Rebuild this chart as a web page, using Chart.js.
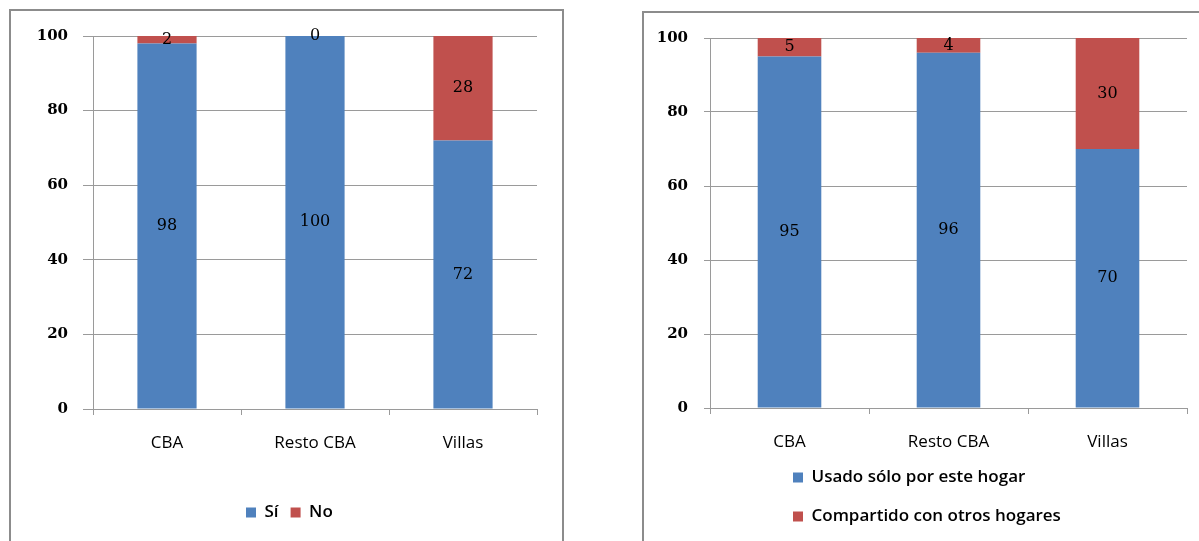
<!DOCTYPE html>
<html lang="es">
<head>
<meta charset="UTF-8">
<title>CBA / Resto CBA / Villas</title>
<script src="https://cdn.jsdelivr.net/npm/chart.js@4.4.1/dist/chart.umd.min.js"></script>
<style>
    html, body { margin: 0; padding: 0; background: #fff; overflow: hidden; }
    .chart-box { position: absolute; border: 2px solid #8c8c8c; background: #fff; }
    #leftBox { left: 9px; top: 9px; width: 551px; height: 560px; }
    #rightBox { left: 642px; top: 11px; width: 600px; height: 560px; }
    canvas { display: block; }
</style>
</head>
<body>
<div class="chart-box" id="leftBox"><canvas id="leftChart" width="551" height="530"></canvas></div>
<div class="chart-box" id="rightBox"><canvas id="rightChart" width="555" height="528"></canvas></div>

<script>
// ====================================
// DATA
// ====================================

const categories = ['CBA', 'Resto CBA', 'Villas'];
const yTicks = [0, 20, 40, 60, 80, 100];

// Left chart
const leftNames = ['Sí', 'No'];
const leftSi = [98, 100, 72];
const leftNo = [2, 0, 28];

// Right chart
const rightNames = ['Usado sólo por este hogar', 'Compartido con otros hogares'];
const rightUsado = [95, 96, 70];
const rightCompartido = [5, 4, 30];

const BLUE = '#4f81bd';
const RED = '#c0504d';
const GRID = '#9a9a9a';

// ====================================
// PLUGINS
// ====================================

// Write each value in the middle of its bar segment
const barValueLabels = {
    id: 'barValueLabels',
    afterDatasetsDraw(chart) {
        const ctx = chart.ctx;
        ctx.save();
        ctx.font = '16px "DejaVu Serif"';
        ctx.fillStyle = '#000';
        ctx.textAlign = 'center';
        ctx.textBaseline = 'middle';
        chart.data.datasets.forEach((ds, i) => {
            chart.getDatasetMeta(i).data.forEach((bar, j) => {
                ctx.fillText(String(ds.data[j]), bar.x, (bar.y + bar.base) / 2);
            });
        });
        ctx.restore();
    }
};

// Move the legend block sideways (Excel puts it off-centre)
const legendOffset = {
    id: 'legendOffset',
    afterLayout(chart, args, opts) {
        const legend = chart.legend;
        if (!legend || opts.left === undefined) return;
        const pad = legend.options.labels.padding;
        legend.left = opts.left - pad;
        legend.width = opts.width;
        legend.right = legend.left + opts.width;
    }
};

// ====================================
// CHART FACTORY
// ====================================

function makeChart(canvasId, names, seriesA, seriesB, cfg) {
    return new Chart(document.getElementById(canvasId), {
        type: 'bar',
        data: {
            labels: categories,
            datasets: [
                { label: names[0], data: seriesA, backgroundColor: BLUE },
                { label: names[1], data: seriesB, backgroundColor: RED }
            ]
        },
        options: {
            responsive: false,
            animation: false,
            barPercentage: cfg.barPct,
            categoryPercentage: 1,
            layout: { padding: cfg.padding },
            plugins: {
                legend: {
                    position: 'bottom',
                    align: 'start',
                    fullSize: cfg.legendFull,
                    labels: {
                        boxWidth: 10,
                        boxHeight: 10,
                        padding: cfg.legendPad,
                        color: '#000',
                        font: { family: 'Open Sans', size: 17, weight: '600' }
                    }
                },
                tooltip: { enabled: false },
                legendOffset: { left: cfg.legendLeft, width: cfg.legendWidth }
            },
            scales: {
                x: {
                    stacked: true,
                    grid: { offset: true, drawOnChartArea: false, color: GRID, tickLength: 6 },
                    border: { color: GRID },
                    ticks: {
                        color: '#000',
                        padding: 18,
                        font: { family: 'Open Sans', size: 17, weight: '500' }
                    },
                    afterFit: scale => { scale.height = cfg.xHeight; }
                },
                y: {
                    stacked: true,
                    min: yTicks[0],
                    max: yTicks[yTicks.length - 1],
                    afterBuildTicks: scale => { scale.ticks = yTicks.map(v => ({ value: v })); },
                    grid: { color: GRID, tickLength: cfg.yTickLen },
                    border: { color: GRID },
                    ticks: {
                        color: '#000',
                        padding: cfg.yPad,
                        font: { family: 'DejaVu Serif', size: 15, weight: 'bold' }
                    },
                    afterFit: scale => { scale.width = cfg.yWidth; }
                }
            }
        },
        plugins: [barValueLabels, legendOffset]
    });
}

// Left chart: Sí / No
makeChart('leftChart', leftNames, leftSi, leftNo, {
    barPct: 0.4,
    padding: { top: 25, right: 25, left: 0, bottom: 10 },
    legendFull: true,
    legendPad: 12,
    legendLeft: 235,
    legendWidth: 300,
    xHeight: 83,
    yWidth: 82,
    yTickLen: 10,
    yPad: 15
});

// Right chart: usado / compartido (legend stacked in two rows)
makeChart('rightChart', rightNames, rightUsado, rightCompartido, {
    barPct: 0.4,
    padding: { top: 25, right: 12, left: 0, bottom: 6 },
    legendFull: false,
    legendPad: 22,
    legendLeft: 149,
    legendWidth: 300,
    xHeight: 39,
    yWidth: 66,
    yTickLen: 6,
    yPad: 16
});
</script>
</body>
</html>
